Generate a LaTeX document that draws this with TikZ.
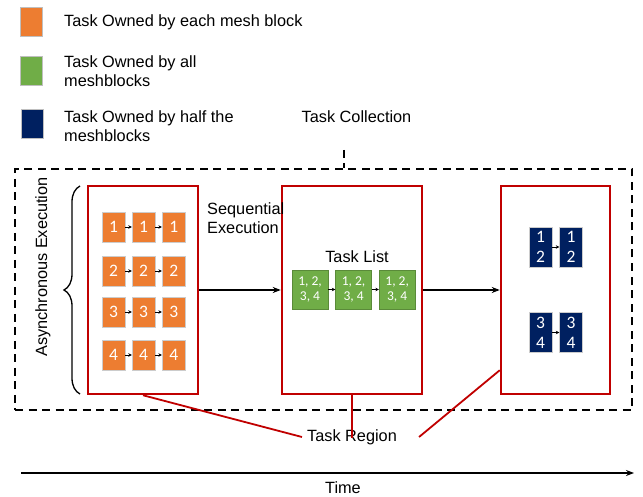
\documentclass[tikz,border=0pt]{standalone}
\usepackage{fontspec}
\setmainfont{Liberation Sans}
\newfontfamily\tasknum{Carlito}
\usepackage{xcolor}
\definecolor{tkorange}{HTML}{ED7D31}
\definecolor{tkgreen}{HTML}{70AD47}
\definecolor{tknavy}{HTML}{002060}
\definecolor{tkred}{HTML}{C00000}
\usetikzlibrary{arrows.meta,positioning,decorations.pathreplacing,calc}
\tikzset{
  tkkey/.style={draw=black!25,line width=0.8pt,minimum width=22pt,minimum height=29pt,inner sep=0pt},
  tktext/.style={font=\fontsize{16.3}{19}\selectfont,align=left,inner sep=0pt},
  tkregion/.style={draw=tkred,line width=2.5pt,fill=white,inner sep=0pt},
  tkcell/.style={draw=black!20,line width=0.6pt,inner sep=0pt,text=white,align=center},
  tkone/.style={tkcell,fill=tkorange,minimum width=23pt,minimum height=30pt,font=\tasknum\fontsize{17.5}{20}\selectfont},
  tkall/.style={tkcell,fill=tkgreen,draw=tkgreen!80!black,minimum width=36pt,minimum height=39pt,font=\tasknum\fontsize{13.5}{15}\selectfont},
  tkhalf/.style={tkcell,fill=tknavy,minimum width=23pt,minimum height=40pt,font=\tasknum\fontsize{17.5}{20}\selectfont},
  tkstep/.style={-{Stealth[length=3.5pt,width=3.5pt]},line width=0.7pt},
  tkflow/.style={-{Stealth[length=8pt,width=6pt]},line width=1.5pt},
  tkdash/.style={line width=2.5pt,dash pattern=on 8pt off 5.5pt},
  tkpoint/.style={draw=tkred,line width=1.8pt},
}

\begin{document}
\begin{tikzpicture}[x=1pt,y=-1pt]
\useasboundingbox (0,0) rectangle (643,497);
 % legend
\node[tkkey,fill=tkorange] (keyone) at (31.5,21.5){};
\node[tkkey,fill=tkgreen] (keyall) at (31.5,71){};
\node[tkkey,fill=tknavy] (keyhalf) at (32.5,124){};
\node[tktext,anchor=west] (txtone) at (64,22){Task Owned by each mesh block};
\node[tktext,anchor=west] (txtall) at (64,71.5){Task Owned by all\\meshblocks};
\node[tktext,anchor=west] (txthalf) at (64,126.5){Task Owned by half the\\meshblocks};
 % task collection
\node[tktext] (colltxt) at (356.5,117){Task Collection};
\node[tkdash,draw,minimum width=617pt,minimum height=241pt,inner sep=0pt] (coll) at (323.5,289.5){};
\coordinate (colltick) at (344,150);
\draw[tkdash] (colltick) -- (colltick |- coll.north);
 % task regions
\node[tkregion,minimum width=110pt,minimum height=208pt] (rega) at (143,290){};
\node[tkregion,minimum width=140pt,minimum height=208pt] (regb) at (352,290){};
\node[tkregion,minimum width=109pt,minimum height=208pt] (regc) at (555.5,290){};
\draw[tkflow] (rega.east) -- (regb.west);
\draw[tkflow] (regb.east) -- (regc.west);
 % each mesh block
\foreach \n/\y in {1/227,2/271,3/312,4/355}{
  \node[tkone] (o\n a) at (113.5,\y){\n};
  \node[tkone,right=6.5pt of o\n a] (o\n b){\n};
  \node[tkone,right=6.5pt of o\n b] (o\n c){\n};
  \draw[tkstep] (o\n a) -- (o\n b);
  \draw[tkstep] (o\n b) -- (o\n c);
}
\node[tktext,anchor=west] (seqtxt) at (207,218.5){Sequential\\Execution};
\draw[line width=1.3pt,decorate,decoration={brace,amplitude=16pt}] (80,394) -- (80,186) coordinate[midway] (bracemid);
\node[tktext,rotate=90] (asynctxt) at (43,267){Asynchronous Execution};
 % all meshblocks
\node[tktext] (listtxt) at (357,257){Task List};
\node[tkall] (ga) at (310,289.5){1, 2,\\3, 4};
\node[tkall,right=7pt of ga] (gb){1, 2,\\3, 4};
\node[tkall,right=7pt of gb] (gc){1, 2,\\3, 4};
\draw[tkstep] (ga) -- (gb);
\draw[tkstep] (gb) -- (gc);
 % half the meshblocks
\node[tkhalf] (na) at (540.5,247){1\\2};
\node[tkhalf,right=7pt of na] (nb){1\\2};
\node[tkhalf] (nc) at (540.5,332.5){3\\4};
\node[tkhalf,right=7pt of nc] (nd){3\\4};
\draw[tkstep] (na) -- (nb);
\draw[tkstep] (nc) -- (nd);
 % task region label
\node[tktext] (regtxt) at (352,437){Task Region};
\coordinate (regcpt) at ($(regc.south west)+(0,-25)$);
\draw[tkpoint] (rega.south) -- ([xshift=-5pt]regtxt.west);
\draw[tkpoint] (regb.south) -- ([yshift=-9pt]regtxt.north);
\draw[tkpoint] ([xshift=22pt]regtxt.east) -- (regcpt);
 % time
\coordinate (tstart) at (21,473);
\coordinate (tend) at (634,473);
\draw[-{Stealth[length=8pt,width=6pt]},line width=2pt] (tstart) -- (tend);
\node[tktext] (timetxt) at (343,487.5){Time};
\end{tikzpicture}
\end{document}
